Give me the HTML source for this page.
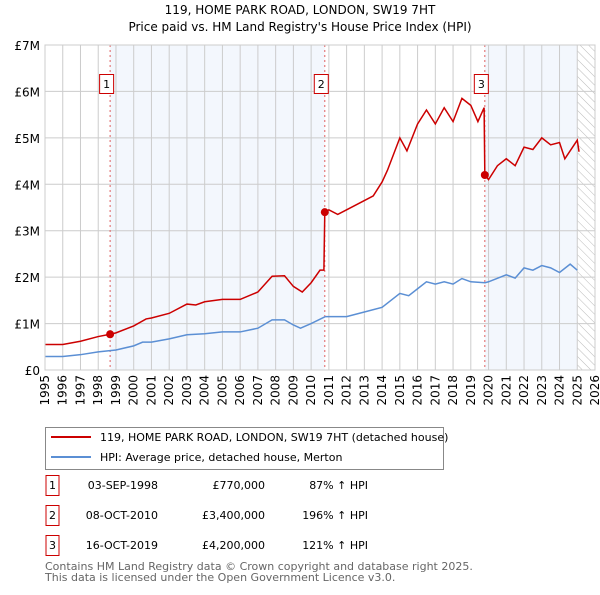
<!DOCTYPE html>
<html><head><meta charset="utf-8"><style>
body{margin:0;background:#fff;font-family:"Liberation Sans","DejaVu Sans",sans-serif;}
svg text{font-family:"DejaVu Sans","Liberation Sans",sans-serif;}
</style></head><body>
<svg id="c" width="600" height="590" xmlns="http://www.w3.org/2000/svg">
<defs><pattern id="hatch" width="6" height="6" patternUnits="userSpaceOnUse" patternTransform="rotate(-45)"><line x1="0" y1="0" x2="0" y2="6" stroke="#bbb" stroke-width="1"/></pattern></defs>
<text x="300" y="14" text-anchor="middle" font-size="12">119, HOME PARK ROAD, LONDON, SW19 7HT</text>
<text x="300" y="31" text-anchor="middle" font-size="12">Price paid vs. HM Land Registry's House Price Index (HPI)</text>
<g id="plot"></g>
<g>
<rect x="45.5" y="427.5" width="398" height="42" fill="#fff" stroke="#888"/>
<line x1="51" y1="437" x2="91" y2="437" stroke="#cc0000" stroke-width="2"/>
<text x="100" y="441" font-size="11">119, HOME PARK ROAD, LONDON, SW19 7HT (detached house)</text>
<line x1="51" y1="457" x2="91" y2="457" stroke="#5b8fd4" stroke-width="2"/>
<text x="100" y="461" font-size="11">HPI: Average price, detached house, Merton</text>
</g>
<g id="tbl" font-size="11"></g>
<text x="45" y="570" font-size="11" fill="#666">Contains HM Land Registry data © Crown copyright and database right 2025.</text>
<text x="45" y="581" font-size="11" fill="#666">This data is licensed under the Open Government Licence v3.0.</text>
</svg>
<script>
const hpiYears=[1995,1996,1997,1998,1999,2000,2000.5,2001,2002,2003,2004,2005,2006,2007,2007.8,2008.5,2009,2009.4,2010,2010.8,2011,2012,2013,2014,2015,2015.5,2016,2016.5,2017,2017.5,2018,2018.5,2019,2019.8,2020,2021,2021.5,2022,2022.5,2023,2023.5,2024,2024.6,2025];
const hpiValues=[0.29,0.29,0.33,0.39,0.43,0.52,0.6,0.6,0.67,0.76,0.78,0.82,0.82,0.9,1.08,1.08,0.97,0.9,1.0,1.15,1.15,1.15,1.25,1.35,1.65,1.6,1.75,1.9,1.85,1.9,1.85,1.97,1.9,1.88,1.9,2.05,1.98,2.2,2.15,2.25,2.2,2.1,2.28,2.15];
const propYears=[1995,1996,1997,1998,1998.67,1999,2000,2000.7,2001,2002,2003,2003.5,2004,2005,2006,2007,2007.8,2008.5,2009,2009.5,2010,2010.5,2010.72,2010.77,2011,2011.5,2012,2013,2013.5,2014,2014.3,2015,2015.4,2016,2016.5,2017,2017.5,2018,2018.5,2019,2019.4,2019.75,2019.79,2020,2020.5,2021,2021.5,2022,2022.5,2023,2023.5,2024,2024.3,2025,2025.1];
const propValues=[0.55,0.55,0.62,0.72,0.77,0.8,0.95,1.1,1.12,1.22,1.42,1.4,1.47,1.52,1.52,1.68,2.02,2.03,1.8,1.68,1.88,2.15,2.15,3.4,3.45,3.35,3.45,3.65,3.75,4.05,4.3,5.0,4.72,5.3,5.6,5.3,5.65,5.35,5.85,5.7,5.35,5.65,4.2,4.1,4.4,4.55,4.4,4.8,4.75,5.0,4.85,4.9,4.55,4.95,4.7];
const saleLabels=["1","2","3"];
const saleYears=[1998.67,2010.77,2019.79];
const saleValues=[0.77,3.4,4.2];
const saleDates=["03-SEP-1998","08-OCT-2010","16-OCT-2019"];
const salePrices=["£770,000","£3,400,000","£4,200,000"];
const saleHpi=["87% ↑ HPI","196% ↑ HPI","121% ↑ HPI"];
const yTicks=[0,1,2,3,4,5,6,7];
const yTickLabels=["£0","£1M","£2M","£3M","£4M","£5M","£6M","£7M"];
const xStart=1995,xEnd=2026,hatchStart=2025;
const L=45,R=595,T=45,B=370;
const X=v=>L+(v-xStart)/(xEnd-xStart)*(R-L);
const Y=v=>B-v/7*(B-T);
const NS="http://www.w3.org/2000/svg";
const g=document.getElementById('plot');
function mk(tag,at,parent){const e=document.createElementNS(NS,tag);for(const k in at)e.setAttribute(k,at[k]);(parent||g).appendChild(e);return e;}
let e;
e=mk('rect',{x:X(saleYears[0]),y:T,width:X(saleYears[1])-X(saleYears[0]),height:B-T,fill:'#eef3fc',opacity:0.7});


e=mk('rect',{x:X(saleYears[2]),y:T,width:X(hatchStart)-X(saleYears[2]),height:B-T,fill:'#eef3fc',opacity:0.7});


e=mk('rect',{x:X(hatchStart),y:T,width:R-X(hatchStart),height:B-T,fill:'url(#hatch)'});


for(let yr=xStart;yr<=xEnd;yr++){
 e=mk('line',{x1:X(yr),x2:X(yr),y1:T,y2:B,stroke:'#ccc','stroke-width':1});
 
 
 e=mk('text',{x:0,y:0,'font-size':12,'text-anchor':'end',transform:`translate(${X(yr)+4},${B+5}) rotate(-90)`});
 e.textContent=yr;
 
 
}
yTicks.forEach((v,i)=>{
 e=mk('line',{x1:L,x2:R,y1:Y(v),y2:Y(v),stroke:'#ccc','stroke-width':1});
 
 
 e=mk('text',{x:L-5,y:Y(v)+5,'font-size':12,'text-anchor':'end'});
 e.textContent=yTickLabels[i];
 
 
});
saleYears.forEach((yr,i)=>{
 e=mk('line',{x1:X(yr),x2:X(yr),y1:T,y2:B,stroke:'#e06060','stroke-width':1,'stroke-dasharray':'2,3'});
 
 
});
e=mk('polyline',{points:hpiYears.map((y,i)=>X(y)+','+Y(hpiValues[i])).join(' '),fill:'none',stroke:'#5b8fd4','stroke-width':1.5});


e=mk('polyline',{points:propYears.map((y,i)=>X(y)+','+Y(propValues[i])).join(' '),fill:'none',stroke:'#cc0000','stroke-width':1.5});


saleYears.forEach((yr,i)=>{
 e=mk('circle',{cx:X(yr),cy:Y(saleValues[i]),r:4,fill:'#cc0000'});
 
 
 e=mk('rect',{x:X(yr)-10.5,y:74.5,width:14,height:19,fill:'#fff',stroke:'#cc0000'});
 
 
 e=mk('text',{x:X(yr)-3.5,y:88,'font-size':11,'text-anchor':'middle'});
 e.textContent=saleLabels[i];
 
 
});
e=mk('rect',{x:L,y:T,width:R-L,height:B-T,fill:'none',stroke:'#ccc'});


const tb=document.getElementById('tbl');
saleLabels.forEach((lab,i)=>{
 const cy=484+i*30;
 e=mk('rect',{x:46,y:cy-8.5,width:13,height:20,fill:'#fff',stroke:'#cc0000'},tb);
 
 
 e=mk('text',{x:52.5,y:cy+5,'text-anchor':'middle'},tb);e.textContent=lab;
 
 
 e=mk('text',{x:158,y:cy+5,'text-anchor':'end'},tb);e.textContent=saleDates[i];
 
 
 e=mk('text',{x:265,y:cy+5,'text-anchor':'end'},tb);e.textContent=salePrices[i];
 
 
 e=mk('text',{x:368,y:cy+5,'text-anchor':'end'},tb);e.textContent=saleHpi[i];
 
 
});
</script>
</body></html>
